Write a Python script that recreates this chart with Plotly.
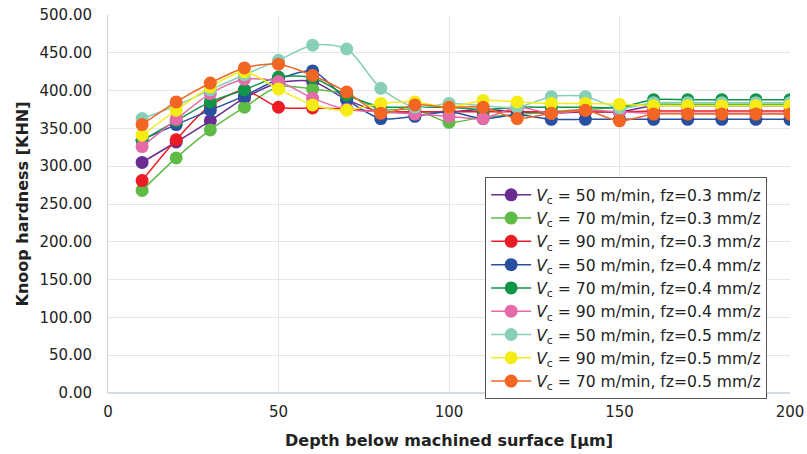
import plotly.graph_objects as go

depth = [10, 20, 30, 40, 50, 60, 70, 80, 90, 100, 110, 120, 130, 140, 150, 160, 170, 180, 190, 200]

names = [
    "<i>V</i><sub>c</sub> = 50 m/min, fz=0.3 mm/z",
    "<i>V</i><sub>c</sub> = 70 m/min, fz=0.3 mm/z",
    "<i>V</i><sub>c</sub> = 90 m/min, fz=0.3 mm/z",
    "<i>V</i><sub>c</sub> = 50 m/min, fz=0.4 mm/z",
    "<i>V</i><sub>c</sub> = 70 m/min, fz=0.4 mm/z",
    "<i>V</i><sub>c</sub> = 90 m/min, fz=0.4 mm/z",
    "<i>V</i><sub>c</sub> = 50 m/min, fz=0.5 mm/z",
    "<i>V</i><sub>c</sub> = 90 m/min, fz=0.5 mm/z",
    "<i>V</i><sub>c</sub> = 70 m/min, fz=0.5 mm/z",
]

v50_f03 = [305, 332, 360, 390, 410, 412, 388, 372, 372, 372, 375, 372, 370, 372, 372, 380, 380, 380, 380, 380]
v70_f03 = [268, 311, 348, 378, 405, 402, 395, 375, 375, 358, 365, 368, 372, 375, 378, 382, 382, 382, 382, 382]
v90_f03 = [281, 335, 380, 400, 378, 377, 376, 372, 372, 372, 372, 372, 372, 372, 372, 373, 373, 373, 373, 373]
v50_f04 = [335, 355, 374, 393, 415, 426, 388, 363, 366, 372, 363, 368, 362, 362, 362, 362, 362, 362, 362, 362]
v70_f04 = [334, 360, 385, 401, 418, 417, 394, 379, 378, 378, 375, 378, 378, 378, 378, 388, 388, 388, 388, 388]
v90_f04 = [326, 362, 396, 415, 412, 390, 375, 372, 369, 366, 363, 378, 370, 374, 372, 370, 370, 370, 370, 370]
v50_f05 = [363, 380, 401, 421, 440, 460, 455, 403, 378, 383, 380, 378, 392, 392, 377, 384, 384, 384, 384, 384]
v90_f05 = [341, 374, 405, 425, 402, 381, 374, 383, 385, 378, 387, 385, 383, 383, 382, 380, 380, 380, 380, 380]
v70_f05 = [355, 385, 410, 430, 435, 420, 398, 370, 381, 378, 378, 363, 370, 374, 360, 369, 369, 369, 369, 369]

series = [v50_f03, v70_f03, v90_f03, v50_f04, v70_f04, v90_f04, v50_f05, v90_f05, v70_f05]
colors = ["#6a2c91", "#5dbb46", "#ec1c24", "#2850a0", "#0f9448", "#e46aa8", "#87cfb8", "#f4ec14", "#f26522"]

fig = go.Figure()
for name, vals, col in zip(names, series, colors):
    fig.add_trace(go.Scatter(
        x=depth, y=vals, name=name, mode="lines+markers",
        line=dict(color=col, width=1.5, shape="spline", smoothing=0.8),
        marker=dict(color=col, size=13),
    ))

font_family = "DejaVu Sans"
fig.update_layout(
    width=807, height=454,
    margin=dict(l=108, r=17, t=15, b=61),
    paper_bgcolor="white", plot_bgcolor="white",
    font=dict(family=font_family, size=15, color="#222"),
    showlegend=True,
    legend=dict(
        x=0.553, y=0.571, xanchor="left", yanchor="top",
        bgcolor="white", bordercolor="#555", borderwidth=1,
        font=dict(size=15.6, color="#222"),
        tracegroupgap=0, itemwidth=40,
    ),
    xaxis=dict(
        range=[0, 200], dtick=50, tick0=0,
        showgrid=True, gridcolor="#e3e7ed", gridwidth=1,
        zeroline=False, showline=False, automargin=False,
        ticks="", ticklabelstandoff=8,
        title=dict(text="<b>Depth below machined surface [µm]</b>", font=dict(size=16), standoff=14),
    ),
    yaxis=dict(
        range=[0, 500], dtick=50, tick0=0, tickformat=".2f",
        showgrid=True, gridcolor="#e3e7ed", gridwidth=1,
        zeroline=True, zerolinecolor="#d5dbe3", automargin=False,
        showline=True, linecolor="#c8d0da", linewidth=1,
        ticks="", ticklabelstandoff=12,
        title=dict(text="<b>Knoop hardness [KHN]</b>", font=dict(size=16), standoff=6),
    ),
)

fig.write_html(
    "out.html",
    config={"displayModeBar": False},
    post_script="document.body.style.margin='0';document.body.style.overflow='hidden';",
)
